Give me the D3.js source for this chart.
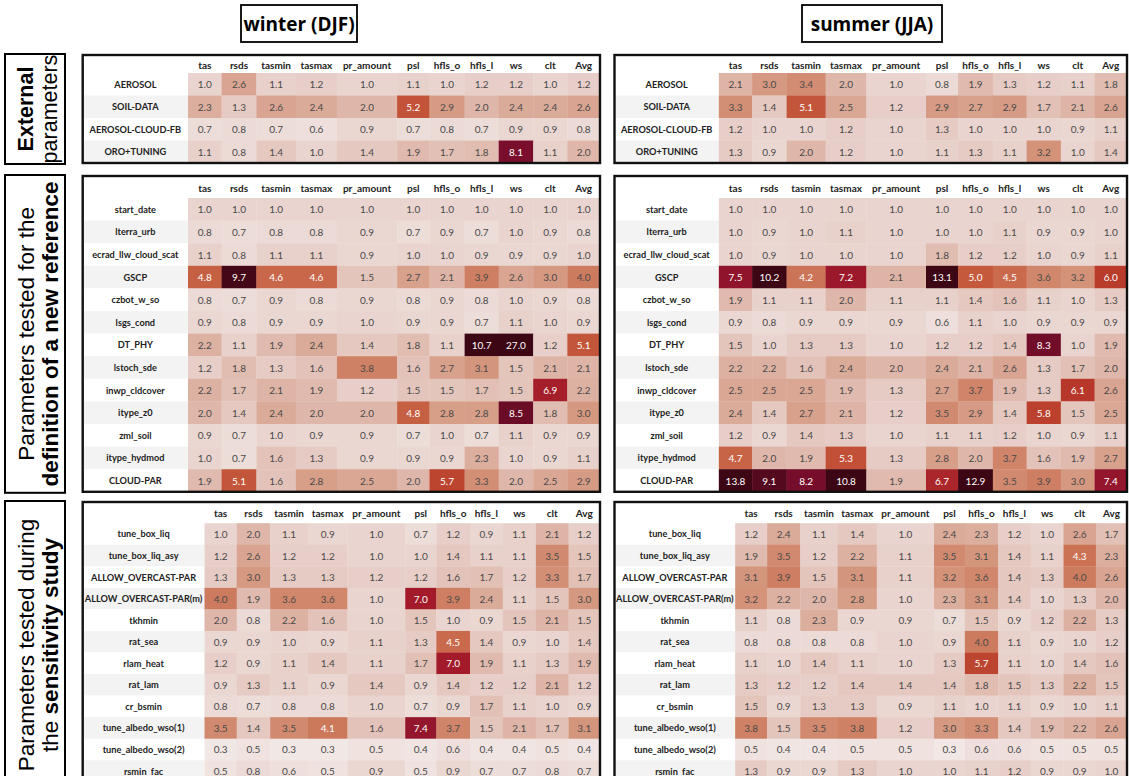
<!DOCTYPE html>
<html>
<head>
<meta charset="utf-8">
<script src="https://cdn.jsdelivr.net/npm/d3@7"></script>
<style>
  html, body { margin: 0; padding: 0; background: #fff; }
  svg { display: block; }
</style>
</head>
<body>
<svg id="chart" width="1129" height="776"></svg>
<script>
// ---------------- DATA ----------------
const columns = ["tas","rsds","tasmin","tasmax","pr_amount","psl","hfls_o","hfls_l","ws","clt","Avg"];
const seasonTitles = ["winter (DJF)", "summer (JJA)"];

const extRows = ["AEROSOL","SOIL-DATA","AEROSOL-CLOUD-FB","ORO+TUNING"];
const extWinter = [
  [1.0,2.6,1.1,1.2,1.0,1.1,1.0,1.2,1.2,1.0,1.2],
  [2.3,1.3,2.6,2.4,2.0,5.2,2.9,2.0,2.4,2.4,2.6],
  [0.7,0.8,0.7,0.6,0.9,0.7,0.8,0.7,0.9,0.9,0.8],
  [1.1,0.8,1.4,1.0,1.4,1.9,1.7,1.8,8.1,1.1,2.0]
];
const extSummer = [
  [2.1,3.0,3.4,2.0,1.0,0.8,1.9,1.3,1.2,1.1,1.8],
  [3.3,1.4,5.1,2.5,1.2,2.9,2.7,2.9,1.7,2.1,2.6],
  [1.2,1.0,1.0,1.2,1.0,1.3,1.0,1.0,1.0,0.9,1.1],
  [1.3,0.9,2.0,1.2,1.0,1.1,1.3,1.1,3.2,1.0,1.4]
];

const refRows = ["start_date","lterra_urb","ecrad_llw_cloud_scat","GSCP","czbot_w_so","lsgs_cond","DT_PHY","lstoch_sde","inwp_cldcover","itype_z0","zml_soil","itype_hydmod","CLOUD-PAR"];
const refWinter = [
  [1.0,1.0,1.0,1.0,1.0,1.0,1.0,1.0,1.0,1.0,1.0],
  [0.8,0.7,0.8,0.8,0.9,0.7,0.9,0.7,1.0,0.9,0.8],
  [1.1,0.8,1.1,1.1,0.9,1.0,1.0,0.9,0.9,0.9,1.0],
  [4.8,9.7,4.6,4.6,1.5,2.7,2.1,3.9,2.6,3.0,4.0],
  [0.8,0.7,0.9,0.8,0.9,0.8,0.9,0.8,1.0,0.9,0.8],
  [0.9,0.8,0.9,0.9,1.0,0.9,0.9,0.7,1.1,1.0,0.9],
  [2.2,1.1,1.9,2.4,1.4,1.8,1.1,10.7,27.0,1.2,5.1],
  [1.2,1.8,1.3,1.6,3.8,1.6,2.7,3.1,1.5,2.1,2.1],
  [2.2,1.7,2.1,1.9,1.2,1.5,1.5,1.7,1.5,6.9,2.2],
  [2.0,1.4,2.4,2.0,2.0,4.8,2.8,2.8,8.5,1.8,3.0],
  [0.9,0.7,1.0,0.9,0.9,0.7,1.0,0.7,1.1,0.9,0.9],
  [1.0,0.7,1.6,1.3,0.9,0.9,0.9,2.3,1.0,0.9,1.1],
  [1.9,5.1,1.6,2.8,2.5,2.0,5.7,3.3,2.0,2.5,2.9]
];
const refSummer = [
  [1.0,1.0,1.0,1.0,1.0,1.0,1.0,1.0,1.0,1.0,1.0],
  [1.0,0.9,1.0,1.1,1.0,1.0,1.0,1.1,0.9,0.9,1.0],
  [1.0,0.9,1.0,1.0,1.0,1.8,1.2,1.2,1.0,0.9,1.1],
  [7.5,10.2,4.2,7.2,2.1,13.1,5.0,4.5,3.6,3.2,6.0],
  [1.9,1.1,1.1,2.0,1.1,1.1,1.4,1.6,1.1,1.0,1.3],
  [0.9,0.8,0.9,0.9,0.9,0.6,1.1,1.0,0.9,0.9,0.9],
  [1.5,1.0,1.3,1.3,1.0,1.2,1.2,1.4,8.3,1.0,1.9],
  [2.2,2.2,1.6,2.4,2.0,2.4,2.1,2.6,1.3,1.7,2.0],
  [2.5,2.5,2.5,1.9,1.3,2.7,3.7,1.9,1.3,6.1,2.6],
  [2.4,1.4,2.7,2.1,1.2,3.5,2.9,1.4,5.8,1.5,2.5],
  [1.2,0.9,1.4,1.3,1.0,1.1,1.1,1.2,1.0,0.9,1.1],
  [4.7,2.0,1.9,5.3,1.3,2.8,2.0,3.7,1.6,1.9,2.7],
  [13.8,9.1,8.2,10.8,1.9,6.7,12.9,3.5,3.9,3.0,7.4]
];

const sensRows = ["tune_box_liq","tune_box_liq_asy","ALLOW_OVERCAST-PAR","ALLOW_OVERCAST-PAR(m)","tkhmin","rat_sea","rlam_heat","rat_lam","cr_bsmin","tune_albedo_wso(1)","tune_albedo_wso(2)","rsmin_fac"];
const sensWinter = [
  [1.0,2.0,1.1,0.9,1.0,0.7,1.2,0.9,1.1,2.1,1.2],
  [1.2,2.6,1.2,1.2,1.0,1.0,1.4,1.1,1.1,3.5,1.5],
  [1.3,3.0,1.3,1.3,1.2,1.2,1.6,1.7,1.2,3.3,1.7],
  [4.0,1.9,3.6,3.6,1.0,7.0,3.9,2.4,1.1,1.5,3.0],
  [2.0,0.8,2.2,1.6,1.0,1.5,1.0,0.9,1.5,2.1,1.5],
  [0.9,0.9,1.0,0.9,1.1,1.3,4.5,1.4,0.9,1.0,1.4],
  [1.2,0.9,1.1,1.4,1.1,1.7,7.0,1.9,1.1,1.3,1.9],
  [0.9,1.3,1.1,0.9,1.4,0.9,1.4,1.2,1.2,2.1,1.2],
  [0.8,0.7,0.8,0.8,1.0,0.7,0.9,1.7,1.1,1.0,0.9],
  [3.5,1.4,3.5,4.1,1.6,7.4,3.7,1.5,2.1,1.7,3.1],
  [0.3,0.5,0.3,0.3,0.5,0.4,0.6,0.4,0.4,0.5,0.4],
  [0.5,0.8,0.6,0.5,0.9,0.5,0.9,0.7,0.7,0.8,0.7]
];
const sensSummer = [
  [1.2,2.4,1.1,1.4,1.0,2.4,2.3,1.2,1.0,2.6,1.7],
  [1.9,3.5,1.2,2.2,1.1,3.5,3.1,1.4,1.1,4.3,2.3],
  [3.1,3.9,1.5,3.1,1.1,3.2,3.6,1.4,1.3,4.0,2.6],
  [3.2,2.2,2.0,2.8,1.0,2.3,3.1,1.4,1.0,1.3,2.0],
  [1.1,0.8,2.3,0.9,0.9,0.7,1.5,0.9,1.2,2.2,1.3],
  [0.8,0.8,0.8,0.8,1.0,0.9,4.0,1.1,0.9,1.0,1.2],
  [1.1,1.0,1.4,1.1,1.0,1.3,5.7,1.1,1.0,1.4,1.6],
  [1.3,1.2,1.2,1.4,1.4,1.4,1.8,1.5,1.3,2.2,1.5],
  [1.5,0.9,1.3,1.3,0.9,1.1,1.0,1.1,0.9,1.0,1.1],
  [3.8,1.5,3.5,3.8,1.2,3.0,3.3,1.4,1.9,2.2,2.6],
  [0.5,0.4,0.4,0.5,0.5,0.3,0.6,0.6,0.5,0.5,0.5],
  [1.3,0.9,0.9,1.3,1.0,1.0,1.1,1.2,0.9,0.9,1.0]
];

const groupLabels = [
  [[{t:"External", b:true}], [{t:"parameters", b:false}]],
  [[{t:"Parameters tested for the", b:false}], [{t:"definition of a new reference", b:true}]],
  [[{t:"Parameters tested during", b:false}], [{t:"the ", b:false}, {t:"sensitivity study", b:true}]]
];

// ---------------- LAYOUT / STYLE ----------------
const colWeights = [33.5,34.7,39.3,41,60,32.3,35,34,34.4,34,32.6];
const panelsX = [{x0: 82.7, x1: 600}, {x0: 614.5, x1: 1127}];
const groupsLayout = [
  {top: 55,  headH: 18,   rowH: 22.5,  labelW: 105,   rows: extRows,  data: [extWinter, extSummer]},
  {top: 176, headH: 22,   rowH: 22.6,  labelW: 105,   rows: refRows,  data: [refWinter, refSummer]},
  {top: 502, headH: 21.2, rowH: 21.55, labelW: 126.5, rows: sensRows, data: [sensWinter, sensSummer]}
];
const colorStops = [0.3, 1, 2, 3, 4, 5, 6, 7, 8, 9, 10];
const colorRange = ["#f1e8e6","#e9d4cf","#dfb7aa","#d59880","#cd7b5f","#c4593c","#b93b2a","#a31b2a","#7e0e2e","#58091f","#3c0615"];
const color = d3.scaleLinear().domain(colorStops).range(colorRange).interpolate(d3.interpolateLab).clamp(true);

const tableFont = "Lato, 'Open Sans', sans-serif";
const titleFont = "'Open Sans', 'Noto Sans', sans-serif";
const boxFont = "'Liberation Sans', Arial, sans-serif";

const svg = d3.select("#chart");

// Season titles
const titleBoxes = [{cx: 299, w: 116}, {cx: 872, w: 140}];
seasonTitles.forEach((t, i) => {
  const b = titleBoxes[i];
  svg.append("rect").attr("x", b.cx - b.w/2).attr("y", 5).attr("width", b.w).attr("height", 37)
    .attr("fill", "#fff").attr("stroke", "#000").attr("stroke-width", 1.8);
  svg.append("text").attr("x", b.cx).attr("y", 24).attr("text-anchor", "middle")
    .attr("dominant-baseline", "central").attr("font-family", titleFont)
    .attr("font-weight", 700).attr("font-size", 19).attr("fill", "#000").text(t);
});

// Tables
groupsLayout.forEach((g, gi) => {
  const nRows = g.rows.length;
  const bottom = g.top + g.headH + nRows * g.rowH;

  // left label box
  const lb = svg.append("g");
  lb.append("rect").attr("x", 5).attr("y", g.top - 1).attr("width", 60).attr("height", bottom - g.top + 2)
    .attr("fill", "#fff").attr("stroke", "#000").attr("stroke-width", 2);
  const cy = gi === 2 ? (g.top + 776) / 2 + 6 : (g.top + bottom) / 2;
  const lineX = [26, 50];
  const fs = gi === 0 ? 21.5 : 22.5;
  groupLabels[gi].forEach((line, li) => {
    const t = lb.append("text")
      .attr("transform", `translate(${lineX[li]},${cy}) rotate(-90)`)
      .attr("text-anchor", "middle").attr("dominant-baseline", "central")
      .attr("font-family", boxFont).attr("font-size", fs).attr("fill", "#000");
    line.forEach(seg => t.append("tspan").attr("font-weight", seg.b ? 700 : 400).text(seg.t));
  });

  panelsX.forEach((px, si) => {
    const data = g.data[si];
    const totalW = px.x1 - px.x0;
    const sc = totalW / (g.labelW + d3.sum(colWeights));
    const labelW = g.labelW * sc;
    const dataScale = (totalW - labelW) / d3.sum(colWeights);
    const widths = colWeights.map(w => w * dataScale);
    const lefts = [];
    let acc = px.x0 + labelW;
    widths.forEach(w => { lefts.push(acc); acc += w; });
    const xLeft = d3.scaleOrdinal().domain(columns).range(lefts);
    const xWidth = d3.scaleOrdinal().domain(columns).range(widths);
    const y = d3.scaleBand().domain(g.rows).range([g.top + g.headH, bottom]).padding(0);

    const panel = svg.append("g");
    panel.append("rect").attr("x", px.x0).attr("y", g.top).attr("width", totalW).attr("height", bottom - g.top)
      .attr("fill", "#fff");

    // label stripes
    panel.selectAll("rect.stripe").data(g.rows).join("rect")
      .attr("class", "stripe")
      .attr("x", px.x0).attr("y", d => y(d)).attr("width", labelW).attr("height", y.bandwidth())
      .attr("fill", (d, i) => i % 2 ? "#f3f3f3" : "#ffffff");

    // row labels
    panel.selectAll("text.rowlab").data(g.rows).join("text")
      .attr("class", "rowlab")
      .attr("x", px.x0 + labelW / 2).attr("y", d => y(d) + y.bandwidth() / 2)
      .attr("text-anchor", "middle").attr("dominant-baseline", "central")
      .attr("font-family", tableFont).attr("font-weight", 700).attr("font-size", 9.2)
      .attr("fill", "#222").text(d => d);

    // headers
    panel.selectAll("text.colhead").data(columns).join("text")
      .attr("class", "colhead")
      .attr("x", d => xLeft(d) + xWidth(d) / 2).attr("y", g.top + g.headH / 2 + 0.5)
      .attr("text-anchor", "middle").attr("dominant-baseline", "central")
      .attr("font-family", tableFont).attr("font-weight", 700).attr("font-size", 10)
      .attr("fill", "#222").text(d => d);

    // cells
    const cells = [];
    g.rows.forEach((r, ri) => columns.forEach((c, ci) => cells.push({r, c, v: data[ri][ci]})));
    panel.selectAll("rect.cell").data(cells).join("rect")
      .attr("class", "cell")
      .attr("x", d => xLeft(d.c)).attr("y", d => y(d.r))
      .attr("width", d => xWidth(d.c) + 0.3).attr("height", y.bandwidth() + 0.3)
      .attr("fill", d => color(d.v));
    panel.selectAll("text.val").data(cells).join("text")
      .attr("class", "val")
      .attr("x", d => xLeft(d.c) + xWidth(d.c) / 2).attr("y", d => y(d.r) + y.bandwidth() / 2)
      .attr("text-anchor", "middle").attr("dominant-baseline", "central")
      .attr("font-family", tableFont).attr("font-size", 10)
      .attr("fill", d => d.v > 4.05 ? "#ffffff" : "#4a4a4a")
      .text(d => d3.format(".1f")(d.v));

    // border
    panel.append("rect").attr("x", px.x0).attr("y", g.top).attr("width", totalW).attr("height", bottom - g.top)
      .attr("fill", "none").attr("stroke", "#111").attr("stroke-width", 2.4);
  });
});
</script>
</body>
</html>
